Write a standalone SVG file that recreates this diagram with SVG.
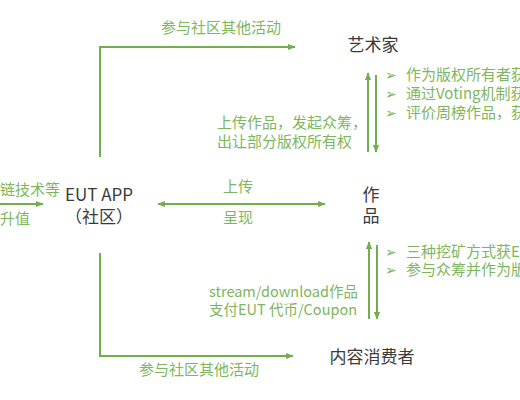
<svg xmlns="http://www.w3.org/2000/svg" width="520" height="400" viewBox="0 0 520 400">
<style>
.g{font-family:"Noto Sans CJK SC","Noto Sans",sans-serif;font-size:15px;fill:#7db65c}
.s{font-size:14.5px}
.t{font-family:"Noto Sans CJK SC","Noto Sans",sans-serif;font-size:17px;fill:#3a3a3a}
.b{font-family:"DejaVu Sans","Noto Sans CJK SC",sans-serif;font-size:14px;fill:#7db65c}
.ln{fill:none;stroke:#72ad4e;stroke-width:2}
</style>
<defs>
<marker id="ah" viewBox="0 0 10 10" refX="9" refY="5" markerWidth="4" markerHeight="4" orient="auto-start-reverse">
<path d="M0,1 L10,5 L0,9 Z" fill="#72ad4e"/>
</marker>
</defs>
<rect width="520" height="400" fill="#ffffff"/>
<g id="connectors">
<path class="ln" d="M100,157 V47 H295" marker-end="url(#ah)"/>
<path class="ln" d="M100,253 V356 H293" marker-end="url(#ah)"/>
<path class="ln" d="M0,204 H43" marker-end="url(#ah)"/>
<path class="ln" d="M158,204 H325" marker-start="url(#ah)" marker-end="url(#ah)"/>
<path class="ln" d="M368,152 V73" marker-end="url(#ah)"/>
<path class="ln" d="M376,75 V152" marker-end="url(#ah)"/>
<path class="ln" d="M369,319 V242" marker-end="url(#ah)"/>
<path class="ln" d="M377,245 V319" marker-end="url(#ah)"/>
</g>
<g id="labels">
<text class="g" x="221" y="33" text-anchor="middle">参与社区其他活动</text>
<text class="g" x="199" y="375" text-anchor="middle">参与社区其他活动</text>
<text class="g" x="60" y="195" text-anchor="end">链技术等</text>
<text class="g" x="0" y="224">升值</text>
<text class="g" x="238" y="192" text-anchor="middle">上传</text>
<text class="g" x="238" y="223" text-anchor="middle">呈现</text>
<text class="g" x="217" y="128">上传作品，发起众筹，</text>
<text class="g" x="217" y="147">出让部分版权所有权</text>
<text class="g s" x="209" y="297">stream/download作品</text>
<text class="g s" x="209" y="315">支付EUT 代币/Coupon</text>
</g>
<g id="artist">
<text class="t" x="373" y="51" text-anchor="middle">艺术家</text>
<text class="b" x="385" y="80">➢</text>
<text class="g" x="406" y="80">作为版权所有者获</text>
<text class="b" x="385" y="99">➢</text>
<text class="g" x="406" y="99">通过Voting机制获</text>
<text class="b" x="385" y="118">➢</text>
<text class="g" x="406" y="118">评价周榜作品，获</text>
</g>
<g id="app">
<text class="t" x="99" y="201" text-anchor="middle">EUT APP</text>
<text class="t" x="99" y="223" text-anchor="middle">（社区）</text>
</g>
<g id="works">
<text class="t" x="371" y="201" text-anchor="middle">作</text>
<text class="t" x="371" y="222" text-anchor="middle">品</text>
<text class="b" x="385" y="257">➢</text>
<text class="g" x="406" y="257">三种挖矿方式获E</text>
<text class="b" x="385" y="275">➢</text>
<text class="g" x="406" y="275">参与众筹并作为版</text>
</g>
<g id="consumer">
<text class="t" x="372" y="363" text-anchor="middle">内容消费者</text>
</g>
</svg>
